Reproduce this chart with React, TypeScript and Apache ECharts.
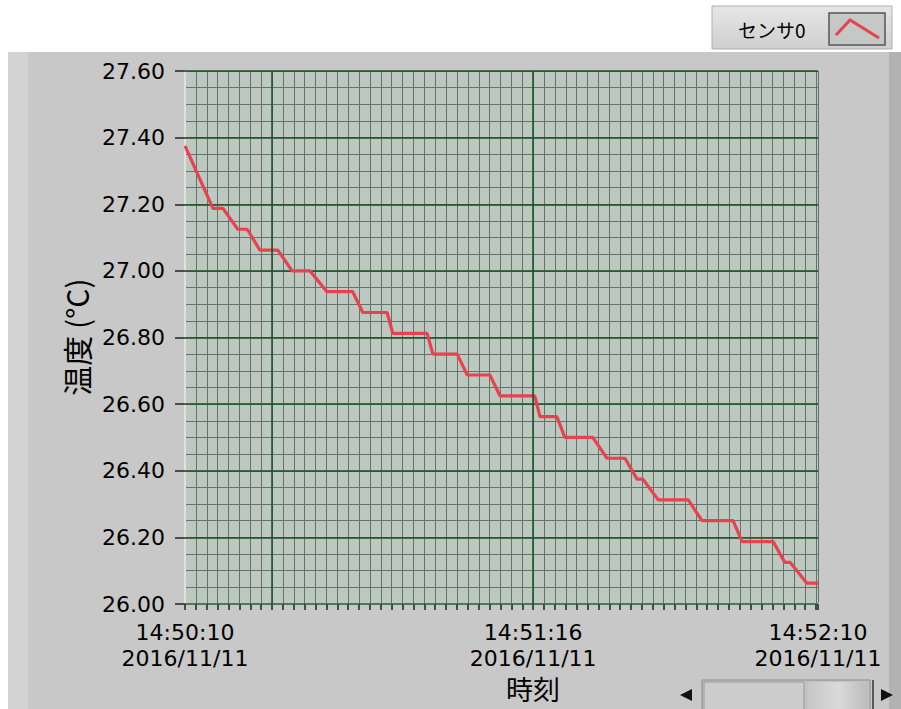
import React, { useEffect, useRef } from "react";
import * as echarts from "echarts";

// seconds elapsed since 14:50:10 (2016/11/11)
const timeOffsets = [
  0, 5.3, 7.2, 10.0, 11.8, 14.2, 17.6, 20.3, 23.7, 26.9,
  31.8, 33.7, 38.3, 39.4, 45.9, 47.0, 51.6, 53.5, 57.8, 59.7,
  66.3, 67.3, 70.5, 72.0, 77.3, 80.0, 83.4, 85.7, 86.8, 89.7,
  95.4, 98.0, 103.9, 105.6, 111.5, 113.7, 114.7, 117.9, 120,
];
const temps = [
  27.375, 27.1875, 27.1875, 27.125, 27.125, 27.0625, 27.0625, 27.0, 27.0, 26.9375,
  26.9375, 26.875, 26.875, 26.8125, 26.8125, 26.75, 26.75, 26.6875, 26.6875, 26.625,
  26.625, 26.5625, 26.5625, 26.5, 26.5, 26.4375, 26.4375, 26.375, 26.375, 26.3125,
  26.3125, 26.25, 26.25, 26.1875, 26.1875, 26.125, 26.125, 26.0625, 26.0625,
];
const xLabelSeconds = [0, 66, 120];
const xLabelTimes = ["14:50:10", "14:51:16", "14:52:10"];
const xLabelDate = "2016/11/11";
const majorTimeLines = [16.5, 66];
const seriesName = "センサ0";
const yName = "温度 (°C)";
const xName = "時刻";

export default function App() {
  const ref = useRef<HTMLDivElement>(null);
  useEffect(() => {
    if (!ref.current) return;
    const chart = echarts.init(ref.current, null, { renderer: "svg" });
    const font = "DejaVu Sans";
    const cjk = "Noto Sans CJK JP";
    const data = timeOffsets.map((t, i) => [t, temps[i]]);
    chart.setOption({
      animation: false,
      backgroundColor: "#ffffff",
      textStyle: { fontFamily: font },
      grid: { left: 185, top: 71, width: 633, height: 533, show: true, backgroundColor: "#bcc8c0", borderWidth: 0 },
      xAxis: [
        {
          type: "value",
          min: 0,
          max: 120,
          interval: 2.0625,
          axisLine: { show: true, lineStyle: { color: "#eeeeee", width: 2 } },
          axisTick: { show: true, length: 6, lineStyle: { color: "#222", width: 1.5 } },
          splitLine: { show: true, lineStyle: { color: "#62736a", width: 1 } },
          axisLabel: {
            show: true,
            showMinLabel: true,
            showMaxLabel: true,
            margin: 15,
            fontSize: 22,
            lineHeight: 26,
            color: "#000",
            fontFamily: font,
            formatter: (v: number) => {
              const i = xLabelSeconds.findIndex((s) => Math.abs(s - v) < 1e-6);
              return i >= 0 ? xLabelTimes[i] + "\n" + xLabelDate : "";
            },
          },
        },
      ],
      yAxis: [
        {
          type: "value",
          min: 26,
          max: 27.6,
          interval: 0.05,
          position: "left",
          axisLine: { show: true, lineStyle: { color: "#e0e0e0", width: 2 } },
          axisTick: { show: false },
          axisLabel: { show: false },
          splitLine: { show: true, lineStyle: { color: "#62736a", width: 1 } },
        },
        {
          type: "value",
          min: 26,
          max: 27.6,
          interval: 0.2,
          position: "left",
          z: 1,
          axisLine: { show: false },
          axisTick: { show: true, length: 10, lineStyle: { color: "#222", width: 1.5 } },
          axisLabel: {
            show: true,
            margin: 20,
            fontSize: 22,
            color: "#000",
            fontFamily: font,
            formatter: (v: number) => v.toFixed(2),
          },
          splitLine: { show: true, lineStyle: { color: "#17521f", width: 1.5 } },
        },
      ],
      series: [
        {
          type: "line",
          name: "major",
          data: [],
          z: 1,
          silent: true,
          markLine: {
            silent: true,
            symbol: ["none", "none"],
            label: { show: false },
            lineStyle: { color: "#17521f", width: 1.5, type: "solid" },
            data: majorTimeLines.map((t) => ({ xAxis: t })),
          },
        },
        {
          type: "line",
          name: seriesName,
          z: 3,
          data,
          showSymbol: false,
          lineStyle: { color: "#e8424e", width: 3.2 },
        },
      ],
      graphic: [
        { type: "rect", z: -10, shape: { x: 8, y: 52, width: 893, height: 657 }, style: { fill: "#c8c8c8" } },
        { type: "rect", z: -9, shape: { x: 8, y: 52, width: 20, height: 657 }, style: { fill: "#d3d3d3" } },
        { type: "rect", z: -9, shape: { x: 889, y: 52, width: 12, height: 657 }, style: { fill: "#b2b2b2" } },
        // legend
        {
          type: "rect",
          z: 5,
          shape: { x: 712, y: 6, width: 180, height: 43 },
          style: {
            fill: new echarts.graphic.LinearGradient(0, 0, 0, 1, [
              { offset: 0, color: "#e6e6e6" },
              { offset: 1, color: "#cfcfcf" },
            ]),
            stroke: "#b0b0b0",
            lineWidth: 1,
          },
        },
        {
          type: "text",
          z: 6,
          x: 738,
          y: 29,
          style: { text: seriesName, font: `19px "${cjk}"`, fill: "#000", verticalAlign: "middle", align: "left" },
        },
        {
          type: "rect",
          z: 6,
          shape: { x: 829, y: 13, width: 56, height: 32 },
          style: { fill: "#c4c9c5", stroke: "#555", lineWidth: 1.5 },
        },
        {
          type: "polyline",
          z: 7,
          shape: { points: [[836, 35], [850, 20], [879, 38]] },
          style: { stroke: "#e8424e", lineWidth: 3, fill: "none" },
        },
        // axis names
        {
          type: "text",
          z: 6,
          x: 76,
          y: 337,
          rotation: Math.PI / 2,
          style: { text: yName, font: `30px "${cjk}"`, fill: "#000", align: "center", verticalAlign: "middle" },
        },
        {
          type: "text",
          z: 6,
          x: 533,
          y: 702,
          style: { text: xName, font: `27px "${cjk}"`, fill: "#000", align: "center", verticalAlign: "bottom" },
        },
        // scrollbar
        { type: "polygon", z: 6, shape: { points: [[680, 695], [692, 689], [692, 701]] }, style: { fill: "#111" } },
        { type: "rect", z: 6, shape: { x: 702, y: 680, width: 168, height: 32 }, style: { fill: "#c2c2c2", stroke: "#8a8a8a", lineWidth: 1 } },
        { type: "rect", z: 7, shape: { x: 704, y: 682, width: 100, height: 30 }, style: { fill: "#cdcdcd", stroke: "#9a9a9a", lineWidth: 1 } },
        {
          type: "rect",
          z: 7,
          shape: { x: 808, y: 682, width: 60, height: 30 },
          style: {
            fill: new echarts.graphic.LinearGradient(0, 0, 1, 0, [
              { offset: 0, color: "#c6c6c6" },
              { offset: 0.5, color: "#dadada" },
              { offset: 1, color: "#bcbcbc" },
            ]),
          },
        },
        { type: "line", z: 7, shape: { x1: 873, y1: 680, x2: 873, y2: 709 }, style: { stroke: "#333", lineWidth: 1.5 } },
        { type: "polygon", z: 6, shape: { points: [[881, 689], [893, 695], [881, 701]] }, style: { fill: "#111" } },
      ],
    });
    return () => chart.dispose();
  }, []);
  return <div ref={ref} style={{ position: "fixed", left: 0, top: 0, width: 901, height: 709 }} />;
}
